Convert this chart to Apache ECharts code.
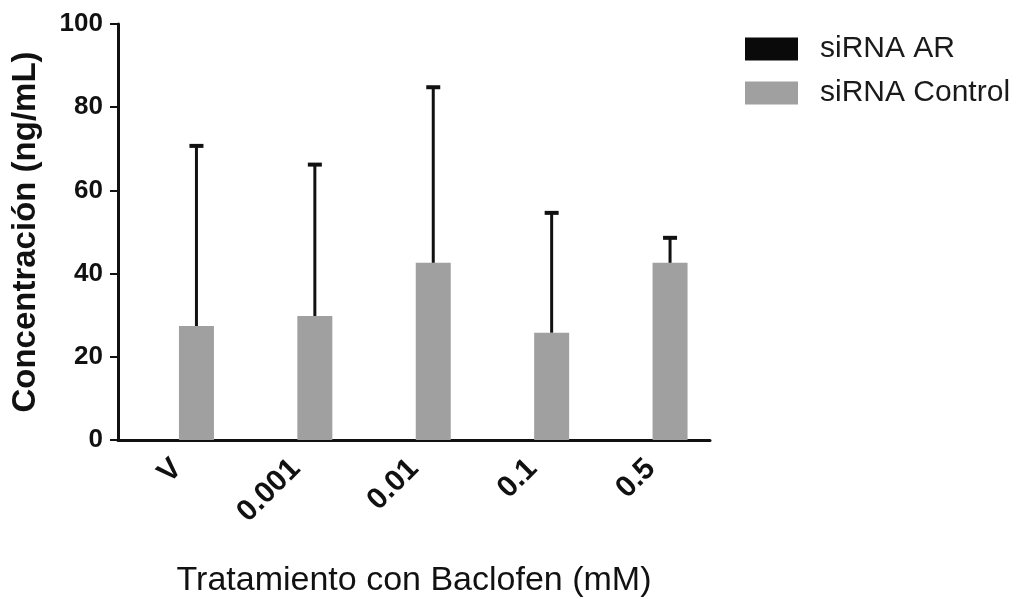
<!DOCTYPE html>
<html>
<head>
<meta charset="utf-8">
<script src="https://cdn.jsdelivr.net/npm/echarts@6/dist/echarts.min.js"></script>
<style>
  html, body { margin: 0; padding: 0; background: #fff; }
  #chart { width: 1026px; height: 599px; }
</style>
</head>
<body>
<div id="chart"></div>
<script>
var categories = ['V', '0.001', '0.01', '0.1', '0.5'];
var arValues = [0, 0, 0, 0, 0];
var controlValues = [27.4, 29.8, 42.6, 25.8, 42.6];
var controlSd = [43.3, 36.4, 42.2, 28.8, 6.0];

var BAR_W = 35;
var BAR_GAP = 0.1; // fraction of bar width
var FONT = 'Liberation Sans, Arial, sans-serif';

var myChart = echarts.init(document.getElementById('chart'));

// error bars (only upward, like prism), drawn over the control bar
var errData = [];
for (var i = 0; i < categories.length; i++) {
  errData.push([i, controlValues[i], controlValues[i] + controlSd[i]]);
}

var option = {
  animation: false,
  backgroundColor: '#fff',
  textStyle: { fontFamily: FONT },
  grid: {
    left: 118,
    right: 316,
    top: 24,
    bottom: 159,
    containLabel: false,
    outerBoundsMode: 'none'
  },
  legend: {
    left: 745,
    top: 34,
    padding: 0,
    orient: 'vertical',
    itemWidth: 53,
    itemHeight: 23,
    itemGap: 14,
    icon: 'rect',
    textStyle: {
      fontSize: 30,
      lineHeight: 23,
      color: '#1a1a1a',
      fontFamily: FONT,
      padding: [0, 0, 0, 17]
    },
    data: ['siRNA AR', 'siRNA Control']
  },
  xAxis: {
    type: 'category',
    data: categories,
    name: 'Tratamiento con Baclofen (mM)',
    nameLocation: 'middle',
    nameGap: 124,
    nameTextStyle: { fontSize: 34, color: '#111', fontFamily: FONT },
    axisLine: { lineStyle: { color: '#111', width: 3 } },
    axisTick: { alignWithLabel: true, length: 8, lineStyle: { color: '#111', width: 2 } },
    axisLabel: {
      rotate: 45,
      margin: 24,
      fontSize: 30,
      fontWeight: 'bold',
      color: '#111',
      fontFamily: FONT
    }
  },
  yAxis: {
    type: 'value',
    min: 0,
    max: 100,
    interval: 20,
    name: 'Concentración (ng/mL)',
    nameLocation: 'middle',
    nameGap: 76,
    nameTextStyle: { fontSize: 33, fontWeight: 'bold', color: '#111', fontFamily: FONT },
    axisLine: { show: true, lineStyle: { color: '#111', width: 3 } },
    axisTick: { show: true, length: 8, lineStyle: { color: '#111', width: 2 } },
    axisLabel: { fontSize: 26, fontWeight: 'bold', color: '#111', margin: 15, fontFamily: FONT },
    splitLine: { show: false }
  },
  series: [
    {
      name: 'siRNA AR',
      type: 'bar',
      data: arValues,
      barWidth: BAR_W,
      barGap: (BAR_GAP * 100) + '%',
      itemStyle: { color: '#0a0a0a' }
    },
    {
      name: 'siRNA Control',
      type: 'bar',
      data: controlValues,
      barWidth: BAR_W,
      barGap: (BAR_GAP * 100) + '%',
      itemStyle: { color: '#a0a0a0' }
    },
    {
      name: 'err',
      type: 'custom',
      data: errData,
      z: 5,
      renderItem: function (params, api) {
        var idx = api.value(0);
        var base = api.coord([idx, api.value(1)]);
        var top = api.coord([idx, api.value(2)]);
        var off = (BAR_W + BAR_W * BAR_GAP) / 2;
        var x = base[0] + off;
        return {
          type: 'group',
          children: [
            {
              type: 'line',
              shape: { x1: x, y1: base[1], x2: x, y2: top[1] },
              style: { stroke: '#111', lineWidth: 3 }
            },
            {
              type: 'line',
              shape: { x1: x - 7, y1: top[1], x2: x + 7, y2: top[1] },
              style: { stroke: '#111', lineWidth: 4 }
            }
          ]
        };
      }
    }
  ]
};

myChart.setOption(option);
window.onresize = myChart.resize;
</script>
</body>
</html>
